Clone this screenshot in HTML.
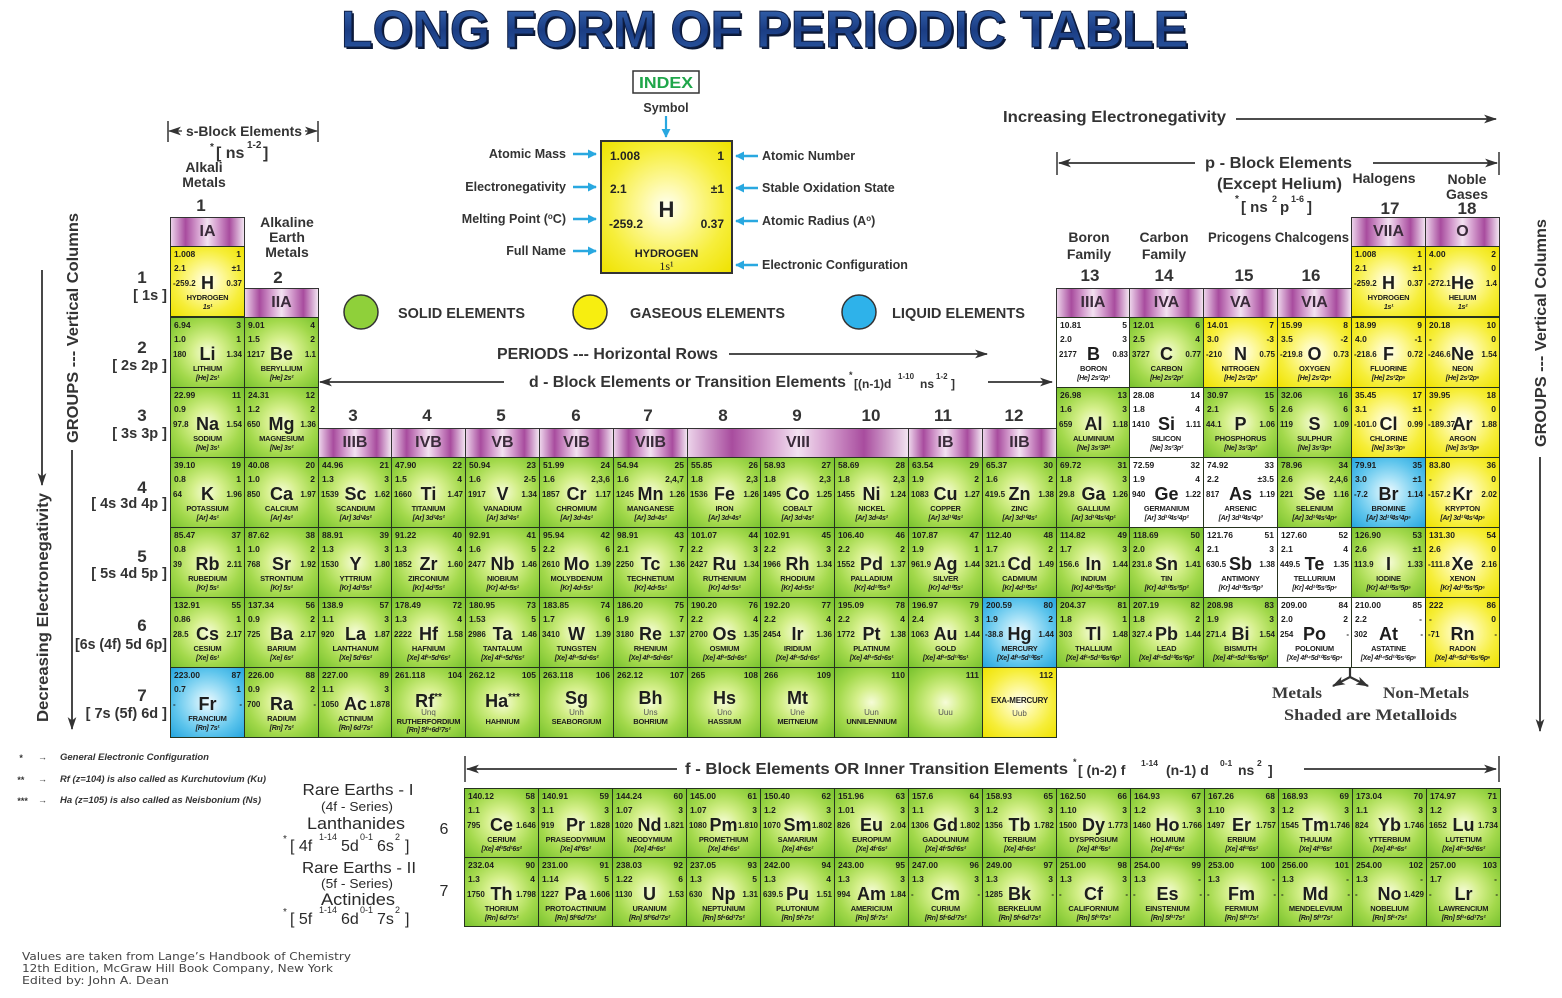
<!DOCTYPE html>
<html><head><meta charset="utf-8">
<style>
body{margin:0;background:#fff;width:1562px;height:998px;position:relative;overflow:hidden;font-family:"Liberation Sans",sans-serif}
.c{position:absolute;width:75px;height:71px;box-sizing:border-box;border:1px solid #26331f;font:bold 8.5px/9px "Liberation Sans",sans-serif;color:#1d1d1d;overflow:hidden}
.c b{position:absolute;white-space:nowrap}
.c b:nth-child(1){left:3px;top:3px}
.c b:nth-child(2){right:3px;top:3px}
.c b:nth-child(3){left:3px;top:17px}
.c b:nth-child(4){right:3px;top:17px}
.c b:nth-child(5){left:2px;top:32px;font-size:8px}
.c b:nth-child(6){left:0;right:0;text-align:center;top:27px;font-size:18px;line-height:18px}
.c b:nth-child(7){right:2px;top:32px;font-size:8px}
.c b:nth-child(8){left:0;right:0;text-align:center;top:47px;font-size:7.5px;line-height:8px;letter-spacing:-.2px}
.c b:nth-child(9){left:0;right:0;text-align:center;top:56.5px;font-size:7px;line-height:8px;font-style:italic;letter-spacing:-.3px}
.c span{position:absolute;left:0;right:0;text-align:center;white-space:nowrap}
.c .sy{font-size:18px;line-height:18px;top:21px}
.c .un{font-size:8px;line-height:8px;font-weight:normal;color:#555;top:41px}
.c .nm{font-size:7.5px;line-height:8px;top:50px;letter-spacing:-.2px}
.c .cf{font-size:7px;line-height:8px;top:59px;font-style:italic;letter-spacing:-.3px}
.g{background:radial-gradient(ellipse at center,#f6fcd8 0%,#d4ef8a 30%,#a3d94c 65%,#78c22e 100%)}
.y{background:radial-gradient(ellipse at center,#fffff2 0%,#fdf89a 30%,#f6ee3a 65%,#efe200 100%)}
.q{background:radial-gradient(ellipse at center,#f0fbff 0%,#a8e2f7 30%,#5cc4ec 65%,#25a5de 100%)}
.w{background:#fff}
.h{position:absolute;height:30px;box-sizing:border-box;border:1px solid #333;font:bold 16px/28px "Liberation Sans",sans-serif;text-align:center;color:#3a2b3a;background:linear-gradient(90deg,#ecd3ea 0%,#a84c9e 20%,#d9a6d3 38%,#f3e2f1 50%,#d9a6d3 62%,#a84c9e 80%,#f2e4f1 100%)}
.k1{left:170px}.k2{left:244px}.k3{left:318px}.k4{left:391px}.k5{left:465px}.k6{left:539px}.k7{left:613px}.k8{left:687px}.k9{left:760px}.k10{left:834px}.k11{left:908px}.k12{left:982px}.k13{left:1056px}.k14{left:1129px}.k15{left:1203px}.k16{left:1277px}.k17{left:1351px}.k18{left:1425px}
.r1{top:246px}.r2{top:317px}.r3{top:387px}.r4{top:457px}.r5{top:527px}.r6{top:597px}.r7{top:667px}
.f1{left:464px}.f2{left:538px}.f3{left:612px}.f4{left:686px}.f5{left:760px}.f6{left:834px}.f7{left:908px}.f8{left:982px}.f9{left:1056px}.f10{left:1130px}.f11{left:1204px}.f12{left:1278px}.f13{left:1352px}.f14{left:1426px}
.s6{top:788px;height:70px}.s7{top:857px;height:70px}
.ix{position:absolute;left:600px;top:140px;width:133px;height:134px;box-sizing:border-box;border:2px solid #333;font:bold 12px/12px "Liberation Sans",sans-serif;color:#222}
.ix b{position:absolute;white-space:nowrap}
</style></head>
<body>
<svg width="1562" height="998" style="position:absolute;left:0;top:0" font-family="Liberation Sans, sans-serif" font-weight="bold" fill="#333">
<defs>
<linearGradient id="tg" x1="0" y1="0" x2="0" y2="1"><stop offset="0" stop-color="#3a6cb8"/><stop offset="0.5" stop-color="#1b3d84"/><stop offset="1" stop-color="#2d5ca8"/></linearGradient>
<marker id="a" viewBox="0 0 12 8" refX="11" refY="4" markerWidth="13" markerHeight="9" markerUnits="userSpaceOnUse" orient="auto"><path d="M0,0 L12,4 L0,8 L3,4z" fill="#333"/></marker>
<marker id="bl" viewBox="0 0 10 10" refX="9" refY="5" markerWidth="9" markerHeight="9" markerUnits="userSpaceOnUse" orient="auto"><path d="M0,0 L10,5 L0,10z" fill="#29a8e0"/></marker>
</defs>
<!-- Title -->
<text x="343" y="49" font-size="52" textLength="847" lengthAdjust="spacingAndGlyphs" fill="#0b1836">LONG FORM OF PERIODIC TABLE</text>
<text x="341" y="47" font-size="52" textLength="847" lengthAdjust="spacingAndGlyphs" fill="url(#tg)" stroke="#0f1f46" stroke-width="1">LONG FORM OF PERIODIC TABLE</text>

<!-- Increasing electronegativity -->
<text x="1003" y="122" font-size="16" textLength="223" lengthAdjust="spacingAndGlyphs">Increasing Electronegativity</text>
<line x1="1236" y1="119" x2="1496" y2="119" stroke="#333" stroke-width="1.8" marker-end="url(#a)"/>

<!-- s-block -->
<line x1="168" y1="121" x2="168" y2="142" stroke="#333" stroke-width="1.5"/>
<line x1="182" y1="131" x2="169" y2="131" stroke="#333" stroke-width="1.3" marker-end="url(#a)"/>
<text x="186" y="136" font-size="14" textLength="116" lengthAdjust="spacingAndGlyphs">s-Block Elements</text>
<line x1="305" y1="131" x2="317" y2="131" stroke="#333" stroke-width="1.3" marker-end="url(#a)"/>
<line x1="318" y1="121" x2="318" y2="142" stroke="#333" stroke-width="1.5"/>
<text x="210" y="150" font-size="10">*</text>
<text x="216" y="158" font-size="16">[ ns</text>
<text x="247" y="148" font-size="10">1-2</text>
<text x="263" y="158" font-size="16">]</text>
<text x="204" y="172" font-size="14" text-anchor="middle">Alkali</text>
<text x="204" y="187" font-size="14" text-anchor="middle">Metals</text>
<text x="201" y="211" font-size="17" text-anchor="middle">1</text>
<text x="287" y="227" font-size="14" text-anchor="middle">Alkaline</text>
<text x="287" y="242" font-size="14" text-anchor="middle">Earth</text>
<text x="287" y="257" font-size="14" text-anchor="middle">Metals</text>
<text x="278" y="283" font-size="17" text-anchor="middle">2</text>

<!-- Index -->
<rect x="633" y="71" width="66" height="22" fill="#fff" stroke="#333" stroke-width="1.5"/>
<text x="666" y="88" font-size="16" text-anchor="middle" fill="#1fa64a" textLength="54" lengthAdjust="spacingAndGlyphs">INDEX</text>
<text x="666" y="112" font-size="12.5" text-anchor="middle">Symbol</text>
<line x1="666" y1="116" x2="666" y2="137" stroke="#29a8e0" stroke-width="2.2" marker-end="url(#bl)"/>
<g font-size="12.5" text-anchor="end">
<text x="566" y="158">Atomic Mass</text>
<text x="566" y="191">Electronegativity</text>
<text x="566" y="223">Melting Point (<tspan font-size="8" dy="-4">o</tspan><tspan dy="4">C)</tspan></text>
<text x="566" y="255">Full Name</text>
</g>
<g stroke="#29a8e0" stroke-width="2.5">
<line x1="573" y1="154" x2="596" y2="154" marker-end="url(#bl)"/>
<line x1="573" y1="187" x2="596" y2="187" marker-end="url(#bl)"/>
<line x1="573" y1="219" x2="596" y2="219" marker-end="url(#bl)"/>
<line x1="573" y1="251" x2="596" y2="251" marker-end="url(#bl)"/>
<line x1="758" y1="156" x2="736" y2="156" marker-end="url(#bl)"/>
<line x1="758" y1="188" x2="736" y2="188" marker-end="url(#bl)"/>
<line x1="758" y1="221" x2="736" y2="221" marker-end="url(#bl)"/>
<line x1="758" y1="265" x2="736" y2="265" marker-end="url(#bl)"/>
</g>
<g font-size="12.5">
<text x="762" y="160">Atomic Number</text>
<text x="762" y="192">Stable Oxidation State</text>
<text x="762" y="225">Atomic Radius (A<tspan font-size="8" dy="-4">o</tspan><tspan dy="4">)</tspan></text>
<text x="762" y="269">Electronic Configuration</text>
</g>

<!-- Legend -->
<circle cx="361" cy="312" r="17" fill="#8fd03a" stroke="#333" stroke-width="1.5"/>
<circle cx="590" cy="312" r="17" fill="#f7ee10" stroke="#333" stroke-width="1.5"/>
<circle cx="859" cy="312" r="17" fill="#2eb2ea" stroke="#333" stroke-width="1.5"/>
<text x="398" y="318" font-size="15" textLength="127" lengthAdjust="spacingAndGlyphs">SOLID ELEMENTS</text>
<text x="630" y="318" font-size="15" textLength="155" lengthAdjust="spacingAndGlyphs">GASEOUS ELEMENTS</text>
<text x="892" y="318" font-size="15" textLength="133" lengthAdjust="spacingAndGlyphs">LIQUID ELEMENTS</text>

<!-- Periods / d-block -->
<text x="497" y="359" font-size="16" textLength="221" lengthAdjust="spacingAndGlyphs">PERIODS ---  Horizontal Rows</text>
<line x1="729" y1="354" x2="987" y2="354" stroke="#333" stroke-width="1.8" marker-end="url(#a)"/>
<line x1="504" y1="382" x2="320" y2="382" stroke="#333" stroke-width="1.8" marker-end="url(#a)"/>
<text x="529" y="387" font-size="16" textLength="317" lengthAdjust="spacingAndGlyphs">d - Block Elements or Transition Elements</text>
<text x="849" y="378" font-size="9">*</text>
<text x="854" y="388" font-size="12">[(n-1)d</text>
<text x="898" y="379" font-size="8">1-10</text>
<text x="920" y="388" font-size="12">ns</text>
<text x="936" y="379" font-size="8">1-2</text>
<text x="951" y="388" font-size="12">]</text>
<line x1="988" y1="382" x2="1052" y2="382" stroke="#333" stroke-width="1.8" marker-end="url(#a)"/>

<g font-size="17" text-anchor="middle">
<text x="353" y="421">3</text><text x="427" y="421">4</text><text x="501" y="421">5</text><text x="576" y="421">6</text><text x="648" y="421">7</text><text x="723" y="421">8</text><text x="797" y="421">9</text><text x="871" y="421">10</text><text x="943" y="421">11</text><text x="1014" y="421">12</text>
<text x="1090" y="281">13</text><text x="1164" y="281">14</text><text x="1244" y="281">15</text><text x="1311" y="281">16</text>
<text x="1390" y="214">17</text><text x="1467" y="214">18</text>
</g>

<!-- p-block -->
<line x1="1057" y1="152" x2="1057" y2="175" stroke="#333" stroke-width="1.5"/>
<line x1="1195" y1="163" x2="1059" y2="163" stroke="#333" stroke-width="1.8" marker-end="url(#a)"/>
<text x="1205" y="168" font-size="16" textLength="147" lengthAdjust="spacingAndGlyphs">p - Block Elements</text>
<line x1="1373" y1="163" x2="1497" y2="163" stroke="#333" stroke-width="1.8" marker-end="url(#a)"/>
<line x1="1499" y1="152" x2="1499" y2="175" stroke="#333" stroke-width="1.5"/>
<text x="1217" y="189" font-size="16" textLength="125" lengthAdjust="spacingAndGlyphs">(Except Helium)</text>
<text x="1235" y="202" font-size="10">*</text>
<text x="1241" y="212" font-size="15">[ ns</text>
<text x="1272" y="202" font-size="9">2</text>
<text x="1280" y="212" font-size="15">p</text>
<text x="1291" y="202" font-size="9">1-6</text>
<text x="1307" y="212" font-size="15">]</text>
<text x="1384" y="183" font-size="14" text-anchor="middle">Halogens</text>
<text x="1467" y="184" font-size="14" text-anchor="middle">Noble</text>
<text x="1467" y="199" font-size="14" text-anchor="middle">Gases</text>
<text x="1089" y="242" font-size="14" text-anchor="middle">Boron</text>
<text x="1089" y="259" font-size="14" text-anchor="middle">Family</text>
<text x="1164" y="242" font-size="14" text-anchor="middle">Carbon</text>
<text x="1164" y="259" font-size="14" text-anchor="middle">Family</text>
<text x="1208" y="242" font-size="14" textLength="141" lengthAdjust="spacingAndGlyphs">Pricogens Chalcogens</text>

<!-- Period labels -->
<g font-size="17" text-anchor="middle">
<text x="142" y="283">1</text><text x="142" y="353">2</text><text x="142" y="421">3</text><text x="142" y="493">4</text><text x="142" y="562">5</text><text x="142" y="631">6</text><text x="142" y="701">7</text>
</g>
<g font-size="14.5" text-anchor="end">
<text x="167" y="300">[ 1s ]</text>
<text x="167" y="370">[ 2s 2p ]</text>
<text x="167" y="438">[ 3s 3p ]</text>
<text x="167" y="508">[ 4s 3d 4p ]</text>
<text x="167" y="578">[ 5s 4d 5p ]</text>
<text x="167" y="649" textLength="92" lengthAdjust="spacingAndGlyphs">[6s (4f) 5d 6p]</text>
<text x="167" y="718">[ 7s (5f) 6d ]</text>
</g>

<!-- Vertical labels -->
<text transform="translate(78,443) rotate(-90)" font-size="16" textLength="230" lengthAdjust="spacingAndGlyphs">GROUPS --- Vertical Columns</text>
<line x1="72" y1="450" x2="72" y2="729" stroke="#333" stroke-width="1.8" marker-end="url(#a)"/>
<line x1="42" y1="270" x2="42" y2="485" stroke="#333" stroke-width="1.8" marker-end="url(#a)"/>
<text transform="translate(48,722) rotate(-90)" font-size="16" textLength="229" lengthAdjust="spacingAndGlyphs">Decreasing Electronegativity</text>
<text transform="translate(1546,447) rotate(-90)" font-size="16" textLength="228" lengthAdjust="spacingAndGlyphs">GROUPS --- Vertical Columns</text>
<line x1="1540" y1="457" x2="1540" y2="731" stroke="#333" stroke-width="1.8" marker-end="url(#a)"/>

<!-- Metals / Non-metals -->
<polyline points="1350,667 1350,677" fill="none" stroke="#333" stroke-width="2.2"/>
<line x1="1350" y1="677" x2="1333" y2="686" stroke="#333" stroke-width="2.2" marker-end="url(#a)"/>
<line x1="1350" y1="677" x2="1368" y2="686" stroke="#333" stroke-width="2.2" marker-end="url(#a)"/>
<g font-family="Liberation Serif, serif" font-size="16" fill="#3a3a3a">
<text x="1272" y="698" textLength="50" lengthAdjust="spacingAndGlyphs">Metals</text>
<text x="1383" y="698" textLength="86" lengthAdjust="spacingAndGlyphs">Non-Metals</text>
<text x="1284" y="720" textLength="173" lengthAdjust="spacingAndGlyphs">Shaded are Metalloids</text>
</g>

<!-- Notes -->
<g font-size="9" font-style="italic" fill="#333">
<text x="19" y="761">*</text><text x="38" y="760">→</text><text x="60" y="760" textLength="149" lengthAdjust="spacingAndGlyphs">General Electronic Configuration</text>
<text x="17" y="783">**</text><text x="38" y="782">→</text><text x="60" y="782" textLength="206" lengthAdjust="spacingAndGlyphs">Rf (z=104) is also called as Kurchutovium (Ku)</text>
<text x="17" y="804">***</text><text x="38" y="803">→</text><text x="60" y="803" textLength="201" lengthAdjust="spacingAndGlyphs">Ha (z=105) is also called as Neisbonium (Ns)</text>
</g>

<!-- Rare earths -->
<g font-weight="normal" fill="#2a2a2a" text-anchor="middle">
<text x="358" y="795" font-size="16" textLength="111" lengthAdjust="spacingAndGlyphs">Rare Earths - I</text>
<text x="357" y="811" font-size="13" textLength="72" lengthAdjust="spacingAndGlyphs">(4f - Series)</text>
<text x="356" y="829" font-size="17" textLength="98" lengthAdjust="spacingAndGlyphs">Lanthanides</text>
<text x="359" y="873" font-size="16" textLength="114" lengthAdjust="spacingAndGlyphs">Rare Earths - II</text>
<text x="357" y="888" font-size="13" textLength="72" lengthAdjust="spacingAndGlyphs">(5f - Series)</text>
<text x="358" y="905" font-size="17" textLength="74" lengthAdjust="spacingAndGlyphs">Actinides</text>
</g>
<g font-weight="normal" fill="#2a2a2a">
<text x="283" y="842" font-size="10">*</text>
<text x="290" y="851" font-size="16">[ 4f</text>
<text x="319" y="840" font-size="9">1-14</text>
<text x="341" y="851" font-size="16">5d</text>
<text x="360" y="840" font-size="9">0-1</text>
<text x="377" y="851" font-size="16">6s</text>
<text x="395" y="840" font-size="9">2</text>
<text x="405" y="851" font-size="16">]</text>
<text x="283" y="915" font-size="10">*</text>
<text x="290" y="924" font-size="16">[ 5f</text>
<text x="319" y="913" font-size="9">1-14</text>
<text x="341" y="924" font-size="16">6d</text>
<text x="360" y="913" font-size="9">0-1</text>
<text x="377" y="924" font-size="16">7s</text>
<text x="395" y="913" font-size="9">2</text>
<text x="405" y="924" font-size="16">]</text>
<text x="444" y="834" font-size="16" text-anchor="middle">6</text>
<text x="444" y="896" font-size="16" text-anchor="middle">7</text>
</g>

<!-- f-block header -->
<line x1="465" y1="756" x2="465" y2="782" stroke="#333" stroke-width="1.5"/>
<line x1="677" y1="769" x2="467" y2="769" stroke="#333" stroke-width="1.8" marker-end="url(#a)"/>
<text x="685" y="774" font-size="16" textLength="383" lengthAdjust="spacingAndGlyphs">f - Block Elements  OR  Inner Transition Elements</text>
<text x="1073" y="765" font-size="9">*</text>
<text x="1078" y="775" font-size="14">[ (n-2) f</text>
<text x="1141" y="766" font-size="8.5">1-14</text>
<text x="1166" y="775" font-size="14">(n-1) d</text>
<text x="1220" y="766" font-size="8.5">0-1</text>
<text x="1238" y="775" font-size="14">ns</text>
<text x="1257" y="766" font-size="8.5">2</text>
<text x="1268" y="775" font-size="14">]</text>
<line x1="1304" y1="769" x2="1496" y2="769" stroke="#333" stroke-width="1.8" marker-end="url(#a)"/>
<line x1="1499" y1="756" x2="1499" y2="782" stroke="#333" stroke-width="1.5"/>

<!-- Footer -->
<g font-family="DejaVu Sans, sans-serif" font-weight="normal" font-size="11" fill="#444">
<text x="22" y="960" textLength="329" lengthAdjust="spacingAndGlyphs">Values are taken from Lange’s Handbook of Chemistry</text>
<text x="22" y="972" textLength="311" lengthAdjust="spacingAndGlyphs">12th Edition, McGraw Hill Book Company, New York</text>
<text x="22" y="984" textLength="147" lengthAdjust="spacingAndGlyphs">Edited by: John A. Dean</text>
</g>
</svg>

<!-- Index cell -->
<div class="ix y">
<b style="left:8px;top:8px">1.008</b><b style="right:7px;top:8px">1</b>
<b style="left:8px;top:41px">2.1</b><b style="right:7px;top:41px">±1</b>
<b style="left:0;right:0;text-align:center;top:57px;font-size:22px;line-height:22px">H</b>
<b style="left:7px;top:76px">-259.2</b><b style="right:7px;top:76px">0.37</b>
<b style="left:0;right:0;text-align:center;top:106px;font-size:11px">HYDROGEN</b>
<b style="left:0;right:0;text-align:center;top:118px;font:12px/12px 'Liberation Serif',serif">1s¹</b>
</div>

<!-- Group headers -->
<div class="h" style="left:170px;top:217px;width:75px">IA</div>
<div class="h" style="left:244px;top:288px;width:75px">IIA</div>
<div class="h" style="left:318px;top:428px;width:74px">IIIB</div>
<div class="h" style="left:391px;top:428px;width:75px">IVB</div>
<div class="h" style="left:465px;top:428px;width:75px">VB</div>
<div class="h" style="left:539px;top:428px;width:75px">VIB</div>
<div class="h" style="left:613px;top:428px;width:75px">VIIB</div>
<div class="h" style="left:687px;top:428px;width:222px">VIII</div>
<div class="h" style="left:908px;top:428px;width:75px">IB</div>
<div class="h" style="left:982px;top:428px;width:75px">IIB</div>
<div class="h" style="left:1056px;top:288px;width:74px">IIIA</div>
<div class="h" style="left:1129px;top:288px;width:75px">IVA</div>
<div class="h" style="left:1203px;top:288px;width:75px">VA</div>
<div class="h" style="left:1277px;top:288px;width:75px">VIA</div>
<div class="h" style="left:1351px;top:217px;width:75px">VIIA</div>
<div class="h" style="left:1425px;top:217px;width:75px">O</div>

<!-- Period 1 -->
<div class="c y k1 r1"><b>1.008</b><b>1</b><b>2.1</b><b>±1</b><b>-259.2</b><b>H</b><b>0.37</b><b>HYDROGEN</b><b>1s¹</b></div>
<div class="c y k17 r1"><b>1.008</b><b>1</b><b>2.1</b><b>±1</b><b>-259.2</b><b>H</b><b>0.37</b><b>HYDROGEN</b><b>1s¹</b></div>
<div class="c y k18 r1"><b>4.00</b><b>2</b><b>-</b><b>0</b><b>-272.1</b><b>He</b><b>1.4</b><b>HELIUM</b><b>1s²</b></div>

<!-- Period 2 -->
<div class="c g k1 r2"><b>6.94</b><b>3</b><b>1.0</b><b>1</b><b>180</b><b>Li</b><b>1.34</b><b>LITHIUM</b><b>[He] 2s¹</b></div>
<div class="c g k2 r2"><b>9.01</b><b>4</b><b>1.5</b><b>2</b><b>1217</b><b>Be</b><b>1.1</b><b>BERYLLIUM</b><b>[He] 2s²</b></div>
<div class="c w k13 r2"><b>10.81</b><b>5</b><b>2.0</b><b>3</b><b>2177</b><b>B</b><b>0.83</b><b>BORON</b><b>[He] 2s²2p¹</b></div>
<div class="c g k14 r2"><b>12.01</b><b>6</b><b>2.5</b><b>4</b><b>3727</b><b>C</b><b>0.77</b><b>CARBON</b><b>[He] 2s²2p²</b></div>
<div class="c y k15 r2"><b>14.01</b><b>7</b><b>3.0</b><b>-3</b><b>-210</b><b>N</b><b>0.75</b><b>NITROGEN</b><b>[He] 2s²2p³</b></div>
<div class="c y k16 r2"><b>15.99</b><b>8</b><b>3.5</b><b>-2</b><b>-219.8</b><b>O</b><b>0.73</b><b>OXYGEN</b><b>[He] 2s²2p⁴</b></div>
<div class="c y k17 r2"><b>18.99</b><b>9</b><b>4.0</b><b>-1</b><b>-218.6</b><b>F</b><b>0.72</b><b>FLUORINE</b><b>[He] 2s²2p⁵</b></div>
<div class="c y k18 r2"><b>20.18</b><b>10</b><b>-</b><b>0</b><b>-246.6</b><b>Ne</b><b>1.54</b><b>NEON</b><b>[He] 2s²2p⁶</b></div>

<!-- Period 3 -->
<div class="c g k1 r3"><b>22.99</b><b>11</b><b>0.9</b><b>1</b><b>97.8</b><b>Na</b><b>1.54</b><b>SODIUM</b><b>[Ne] 3s¹</b></div>
<div class="c g k2 r3"><b>24.31</b><b>12</b><b>1.2</b><b>2</b><b>650</b><b>Mg</b><b>1.36</b><b>MAGNESIUM</b><b>[Ne] 3s²</b></div>
<div class="c g k13 r3"><b>26.98</b><b>13</b><b>1.6</b><b>3</b><b>659</b><b>Al</b><b>1.18</b><b>ALUMINIUM</b><b>[Ne] 3s²3P¹</b></div>
<div class="c w k14 r3"><b>28.08</b><b>14</b><b>1.8</b><b>4</b><b>1410</b><b>Si</b><b>1.11</b><b>SILICON</b><b>[Ne] 3s²3p²</b></div>
<div class="c g k15 r3"><b>30.97</b><b>15</b><b>2.1</b><b>5</b><b>44.1</b><b>P</b><b>1.06</b><b>PHOSPHORUS</b><b>[Ne] 3s²3p³</b></div>
<div class="c g k16 r3"><b>32.06</b><b>16</b><b>2.6</b><b>6</b><b>119</b><b>S</b><b>1.09</b><b>SULPHUR</b><b>[Ne] 3s²3p⁴</b></div>
<div class="c y k17 r3"><b>35.45</b><b>17</b><b>3.1</b><b>±1</b><b>-101.0</b><b>Cl</b><b>0.99</b><b>CHLORINE</b><b>[Ne] 3s²3p⁵</b></div>
<div class="c y k18 r3"><b>39.95</b><b>18</b><b>-</b><b>0</b><b>-189.37</b><b>Ar</b><b>1.88</b><b>ARGON</b><b>[Ne] 3s²3p⁶</b></div>

<!-- Period 4 -->
<div class="c g k1 r4"><b>39.10</b><b>19</b><b>0.8</b><b>1</b><b>64</b><b>K</b><b>1.96</b><b>POTASSIUM</b><b>[Ar] 4s¹</b></div>
<div class="c g k2 r4"><b>40.08</b><b>20</b><b>1.0</b><b>2</b><b>850</b><b>Ca</b><b>1.97</b><b>CALCIUM</b><b>[Ar] 4s²</b></div>
<div class="c g k3 r4"><b>44.96</b><b>21</b><b>1.3</b><b>3</b><b>1539</b><b>Sc</b><b>1.62</b><b>SCANDIUM</b><b>[Ar] 3d¹4s²</b></div>
<div class="c g k4 r4"><b>47.90</b><b>22</b><b>1.5</b><b>4</b><b>1660</b><b>Ti</b><b>1.47</b><b>TITANIUM</b><b>[Ar] 3d²4s²</b></div>
<div class="c g k5 r4"><b>50.94</b><b>23</b><b>1.6</b><b>2-5</b><b>1917</b><b>V</b><b>1.34</b><b>VANADIUM</b><b>[Ar] 3d³4s²</b></div>
<div class="c g k6 r4"><b>51.99</b><b>24</b><b>1.6</b><b>2,3,6</b><b>1857</b><b>Cr</b><b>1.17</b><b>CHROMIUM</b><b>[Ar] 3d⁵4s¹</b></div>
<div class="c g k7 r4"><b>54.94</b><b>25</b><b>1.6</b><b>2,4,7</b><b>1245</b><b>Mn</b><b>1.26</b><b>MANGANESE</b><b>[Ar] 3d⁵4s²</b></div>
<div class="c g k8 r4"><b>55.85</b><b>26</b><b>1.8</b><b>2,3</b><b>1536</b><b>Fe</b><b>1.26</b><b>IRON</b><b>[Ar] 3d⁶4s²</b></div>
<div class="c g k9 r4"><b>58.93</b><b>27</b><b>1.8</b><b>2,3</b><b>1495</b><b>Co</b><b>1.25</b><b>COBALT</b><b>[Ar] 3d⁷4s²</b></div>
<div class="c g k10 r4"><b>58.69</b><b>28</b><b>1.8</b><b>2,3</b><b>1455</b><b>Ni</b><b>1.24</b><b>NICKEL</b><b>[Ar] 3d⁸4s²</b></div>
<div class="c g k11 r4"><b>63.54</b><b>29</b><b>1.9</b><b>2</b><b>1083</b><b>Cu</b><b>1.27</b><b>COPPER</b><b>[Ar] 3d¹⁰4s¹</b></div>
<div class="c g k12 r4"><b>65.37</b><b>30</b><b>1.6</b><b>2</b><b>419.5</b><b>Zn</b><b>1.38</b><b>ZINC</b><b>[Ar] 3d¹⁰4s²</b></div>
<div class="c g k13 r4"><b>69.72</b><b>31</b><b>1.8</b><b>3</b><b>29.8</b><b>Ga</b><b>1.26</b><b>GALLIUM</b><b>[Ar] 3d¹⁰4s²4p¹</b></div>
<div class="c w k14 r4"><b>72.59</b><b>32</b><b>1.9</b><b>4</b><b>940</b><b>Ge</b><b>1.22</b><b>GERMANIUM</b><b>[Ar] 3d¹⁰4s²4p²</b></div>
<div class="c w k15 r4"><b>74.92</b><b>33</b><b>2.2</b><b>±3.5</b><b>817</b><b>As</b><b>1.19</b><b>ARSENIC</b><b>[Ar] 3d¹⁰4s²4p³</b></div>
<div class="c g k16 r4"><b>78.96</b><b>34</b><b>2.6</b><b>2,4,6</b><b>221</b><b>Se</b><b>1.16</b><b>SELENIUM</b><b>[Ar] 3d¹⁰4s²4p⁴</b></div>
<div class="c q k17 r4"><b>79.91</b><b>35</b><b>3.0</b><b>±1</b><b>-7.2</b><b>Br</b><b>1.14</b><b>BROMINE</b><b>[Ar] 3d¹⁰4s²4p⁵</b></div>
<div class="c y k18 r4"><b>83.80</b><b>36</b><b>-</b><b>0</b><b>-157.2</b><b>Kr</b><b>2.02</b><b>KRYPTON</b><b>[Ar] 3d¹⁰4s²4p⁶</b></div>

<!-- Period 5 -->
<div class="c g k1 r5"><b>85.47</b><b>37</b><b>0.8</b><b>1</b><b>39</b><b>Rb</b><b>2.11</b><b>RUBEDIUM</b><b>[Kr] 5s¹</b></div>
<div class="c g k2 r5"><b>87.62</b><b>38</b><b>1.0</b><b>2</b><b>768</b><b>Sr</b><b>1.92</b><b>STRONTIUM</b><b>[Kr] 5s²</b></div>
<div class="c g k3 r5"><b>88.91</b><b>39</b><b>1.3</b><b>3</b><b>1530</b><b>Y</b><b>1.80</b><b>YTTRIUM</b><b>[Kr] 4d¹5s²</b></div>
<div class="c g k4 r5"><b>91.22</b><b>40</b><b>1.3</b><b>4</b><b>1852</b><b>Zr</b><b>1.60</b><b>ZIRCONIUM</b><b>[Kr] 4d²5s²</b></div>
<div class="c g k5 r5"><b>92.91</b><b>41</b><b>1.6</b><b>5</b><b>2477</b><b>Nb</b><b>1.46</b><b>NIOBIUM</b><b>[Kr] 4d⁴5s¹</b></div>
<div class="c g k6 r5"><b>95.94</b><b>42</b><b>2.2</b><b>6</b><b>2610</b><b>Mo</b><b>1.39</b><b>MOLYBDENUM</b><b>[Kr] 4d⁵5s¹</b></div>
<div class="c g k7 r5"><b>98.91</b><b>43</b><b>2.1</b><b>7</b><b>2250</b><b>Tc</b><b>1.36</b><b>TECHNETIUM</b><b>[Kr] 4d⁶5s¹</b></div>
<div class="c g k8 r5"><b>101.07</b><b>44</b><b>2.2</b><b>3</b><b>2427</b><b>Ru</b><b>1.34</b><b>RUTHENIUM</b><b>[Kr] 4d⁷5s¹</b></div>
<div class="c g k9 r5"><b>102.91</b><b>45</b><b>2.2</b><b>3</b><b>1966</b><b>Rh</b><b>1.34</b><b>RHODIUM</b><b>[Kr] 4d⁸5s¹</b></div>
<div class="c g k10 r5"><b>106.40</b><b>46</b><b>2.2</b><b>2</b><b>1552</b><b>Pd</b><b>1.37</b><b>PALLADIUM</b><b>[Kr] 4d¹⁰5s⁰</b></div>
<div class="c g k11 r5"><b>107.87</b><b>47</b><b>1.9</b><b>1</b><b>961.9</b><b>Ag</b><b>1.44</b><b>SILVER</b><b>[Kr] 4d¹⁰5s¹</b></div>
<div class="c g k12 r5"><b>112.40</b><b>48</b><b>1.7</b><b>2</b><b>321.1</b><b>Cd</b><b>1.49</b><b>CADMIUM</b><b>[Kr] 4d¹⁰5s²</b></div>
<div class="c g k13 r5"><b>114.82</b><b>49</b><b>1.7</b><b>3</b><b>156.6</b><b>In</b><b>1.44</b><b>INDIUM</b><b>[Kr] 4d¹⁰5s²5p¹</b></div>
<div class="c g k14 r5"><b>118.69</b><b>50</b><b>2.0</b><b>4</b><b>231.8</b><b>Sn</b><b>1.41</b><b>TIN</b><b>[Kr] 4d¹⁰5s²5p²</b></div>
<div class="c w k15 r5"><b>121.76</b><b>51</b><b>2.1</b><b>3</b><b>630.5</b><b>Sb</b><b>1.38</b><b>ANTIMONY</b><b>[Kr] 4d¹⁰5s²5p³</b></div>
<div class="c w k16 r5"><b>127.60</b><b>52</b><b>2.1</b><b>4</b><b>449.5</b><b>Te</b><b>1.35</b><b>TELLURIUM</b><b>[Kr] 4d¹⁰5s²5p⁴</b></div>
<div class="c g k17 r5"><b>126.90</b><b>53</b><b>2.6</b><b>±1</b><b>113.9</b><b>I</b><b>1.33</b><b>IODINE</b><b>[Kr] 4d¹⁰5s²5p⁵</b></div>
<div class="c y k18 r5"><b>131.30</b><b>54</b><b>2.6</b><b>0</b><b>-111.8</b><b>Xe</b><b>2.16</b><b>XENON</b><b>[Kr] 4d¹⁰5s²5p⁶</b></div>

<!-- Period 6 -->
<div class="c g k1 r6"><b>132.91</b><b>55</b><b>0.86</b><b>1</b><b>28.5</b><b>Cs</b><b>2.17</b><b>CESIUM</b><b>[Xe] 6s¹</b></div>
<div class="c g k2 r6"><b>137.34</b><b>56</b><b>0.9</b><b>2</b><b>725</b><b>Ba</b><b>2.17</b><b>BARIUM</b><b>[Xe] 6s²</b></div>
<div class="c g k3 r6"><b>138.9</b><b>57</b><b>1.1</b><b>3</b><b>920</b><b>La</b><b>1.87</b><b>LANTHANUM</b><b>[Xe] 5d¹6s²</b></div>
<div class="c g k4 r6"><b>178.49</b><b>72</b><b>1.3</b><b>4</b><b>2222</b><b>Hf</b><b>1.58</b><b>HAFNIUM</b><b>[Xe] 4f¹⁴5d²6s²</b></div>
<div class="c g k5 r6"><b>180.95</b><b>73</b><b>1.53</b><b>5</b><b>2986</b><b>Ta</b><b>1.46</b><b>TANTALUM</b><b>[Xe] 4f¹⁴5d³6s²</b></div>
<div class="c g k6 r6"><b>183.85</b><b>74</b><b>1.7</b><b>6</b><b>3410</b><b>W</b><b>1.39</b><b>TUNGSTEN</b><b>[Xe] 4f¹⁴5d⁴6s²</b></div>
<div class="c g k7 r6"><b>186.20</b><b>75</b><b>1.9</b><b>7</b><b>3180</b><b>Re</b><b>1.37</b><b>RHENIUM</b><b>[Xe] 4f¹⁴5d⁵6s²</b></div>
<div class="c g k8 r6"><b>190.20</b><b>76</b><b>2.2</b><b>4</b><b>2700</b><b>Os</b><b>1.35</b><b>OSMIUM</b><b>[Xe] 4f¹⁴5d⁶6s²</b></div>
<div class="c g k9 r6"><b>192.20</b><b>77</b><b>2.2</b><b>4</b><b>2454</b><b>Ir</b><b>1.36</b><b>IRIDIUM</b><b>[Xe] 4f¹⁴5d⁷6s²</b></div>
<div class="c g k10 r6"><b>195.09</b><b>78</b><b>2.2</b><b>4</b><b>1772</b><b>Pt</b><b>1.38</b><b>PLATINUM</b><b>[Xe] 4f¹⁴5d⁹6s¹</b></div>
<div class="c g k11 r6"><b>196.97</b><b>79</b><b>2.4</b><b>3</b><b>1063</b><b>Au</b><b>1.44</b><b>GOLD</b><b>[Xe] 4f¹⁴5d¹⁰6s¹</b></div>
<div class="c q k12 r6"><b>200.59</b><b>80</b><b>1.9</b><b>2</b><b>-38.8</b><b>Hg</b><b>1.44</b><b>MERCURY</b><b>[Xe] 4f¹⁴5d¹⁰6s²</b></div>
<div class="c g k13 r6"><b>204.37</b><b>81</b><b>1.8</b><b>1</b><b>303</b><b>Tl</b><b>1.48</b><b>THALLIUM</b><b>[Xe] 4f¹⁴5d¹⁰6s²6p¹</b></div>
<div class="c g k14 r6"><b>207.19</b><b>82</b><b>1.8</b><b>2</b><b>327.4</b><b>Pb</b><b>1.44</b><b>LEAD</b><b>[Xe] 4f¹⁴5d¹⁰6s²6p²</b></div>
<div class="c g k15 r6"><b>208.98</b><b>83</b><b>1.9</b><b>3</b><b>271.4</b><b>Bi</b><b>1.54</b><b>BISMUTH</b><b>[Xe] 4f¹⁴5d¹⁰6s²6p³</b></div>
<div class="c w k16 r6"><b>209.00</b><b>84</b><b>2.0</b><b>2</b><b>254</b><b>Po</b><b>-</b><b>POLONIUM</b><b>[Xe] 4f¹⁴5d¹⁰6s²6p⁴</b></div>
<div class="c w k17 r6"><b>210.00</b><b>85</b><b>2.2</b><b>-</b><b>302</b><b>At</b><b>-</b><b>ASTATINE</b><b>[Xe] 4f¹⁴5d¹⁰6s²6p⁵</b></div>
<div class="c y k18 r6"><b>222</b><b>86</b><b>-</b><b>0</b><b>-71</b><b>Rn</b><b>-</b><b>RADON</b><b>[Xe] 4f¹⁴5d¹⁰6s²6p⁶</b></div>

<!-- Period 7 -->
<div class="c q k1 r7"><b>223.00</b><b>87</b><b>0.7</b><b>1</b><b>-</b><b>Fr</b><b>-</b><b>FRANCIUM</b><b>[Rn] 7s¹</b></div>
<div class="c g k2 r7"><b>226.00</b><b>88</b><b>0.9</b><b>2</b><b>700</b><b>Ra</b><b>-</b><b>RADIUM</b><b>[Rn] 7s²</b></div>
<div class="c g k3 r7"><b>227.00</b><b>89</b><b>1.1</b><b>3</b><b>1050</b><b>Ac</b><b>1.878</b><b>ACTINIUM</b><b>[Rn] 6d¹7s²</b></div>
<div class="c g k4 r7"><b>261.118</b><b>104</b><span class="sy">Rf<sup style="font-size:10px">**</sup></span><span class="un">Unq</span><span class="nm">RUTHERFORDIUM</span><span class="cf">[Rn] 5f¹⁴6d²7s²</span></div>
<div class="c g k5 r7"><b>262.12</b><b>105</b><span class="sy">Ha<sup style="font-size:10px">***</sup></span><span class="nm">HAHNIUM</span></div>
<div class="c g k6 r7"><b>263.118</b><b>106</b><span class="sy">Sg</span><span class="un" style="top:41px">Unh</span><span class="nm" style="top:50px">SEABORGIUM</span></div>
<div class="c g k7 r7"><b>262.12</b><b>107</b><span class="sy">Bh</span><span class="un">Uns</span><span class="nm">BOHRIUM</span></div>
<div class="c g k8 r7"><b>265</b><b>108</b><span class="sy">Hs</span><span class="un">Uno</span><span class="nm">HASSIUM</span></div>
<div class="c g k9 r7"><b>266</b><b>109</b><span class="sy">Mt</span><span class="un">Une</span><span class="nm">MEITNEIUM</span></div>
<div class="c g k10 r7"><b></b><b>110</b><span class="un">Uun</span><span class="nm">UNNILENNIUM</span></div>
<div class="c g k11 r7"><b></b><b>111</b><span class="un">Uuu</span></div>
<div class="c y k12 r7"><b></b><b>112</b><span class="nm" style="top:29px;font-size:8px">EXA-MERCURY</span><span class="un" style="top:42px">Uub</span></div>

<!-- f-block row 6 -->
<div class="c g f1 s6"><b>140.12</b><b>58</b><b>1.1</b><b>3</b><b>795</b><b>Ce</b><b>1.646</b><b>CERIUM</b><b>[Xe] 4f¹5d¹6s²</b></div>
<div class="c g f2 s6"><b>140.91</b><b>59</b><b>1.1</b><b>3</b><b>919</b><b>Pr</b><b>1.828</b><b>PRASEODYMIUM</b><b>[Xe] 4f³6s²</b></div>
<div class="c g f3 s6"><b>144.24</b><b>60</b><b>1.07</b><b>3</b><b>1020</b><b>Nd</b><b>1.821</b><b>NEODYMIUM</b><b>[Xe] 4f⁴6s²</b></div>
<div class="c g f4 s6"><b>145.00</b><b>61</b><b>1.07</b><b>3</b><b>1080</b><b>Pm</b><b>1.810</b><b>PROMETHIUM</b><b>[Xe] 4f⁵6s²</b></div>
<div class="c g f5 s6"><b>150.40</b><b>62</b><b>1.2</b><b>3</b><b>1070</b><b>Sm</b><b>1.802</b><b>SAMARIUM</b><b>[Xe] 4f⁶6s²</b></div>
<div class="c g f6 s6"><b>151.96</b><b>63</b><b>1.01</b><b>3</b><b>826</b><b>Eu</b><b>2.04</b><b>EUROPIUM</b><b>[Xe] 4f⁷6s²</b></div>
<div class="c g f7 s6"><b>157.6</b><b>64</b><b>1.1</b><b>3</b><b>1306</b><b>Gd</b><b>1.802</b><b>GADOLINIUM</b><b>[Xe] 4f⁷5d¹6s²</b></div>
<div class="c g f8 s6"><b>158.93</b><b>65</b><b>1.2</b><b>3</b><b>1356</b><b>Tb</b><b>1.782</b><b>TERBIUM</b><b>[Xe] 4f⁹6s²</b></div>
<div class="c g f9 s6"><b>162.50</b><b>66</b><b>1.10</b><b>3</b><b>1500</b><b>Dy</b><b>1.773</b><b>DYSPROSIUM</b><b>[Xe] 4f¹⁰6s²</b></div>
<div class="c g f10 s6"><b>164.93</b><b>67</b><b>1.2</b><b>3</b><b>1460</b><b>Ho</b><b>1.766</b><b>HOLMIUM</b><b>[Xe] 4f¹¹6s²</b></div>
<div class="c g f11 s6"><b>167.26</b><b>68</b><b>1.10</b><b>3</b><b>1497</b><b>Er</b><b>1.757</b><b>ERBIUM</b><b>[Xe] 4f¹²6s²</b></div>
<div class="c g f12 s6"><b>168.93</b><b>69</b><b>1.2</b><b>3</b><b>1545</b><b>Tm</b><b>1.746</b><b>THULIUM</b><b>[Xe] 4f¹³6s²</b></div>
<div class="c g f13 s6"><b>173.04</b><b>70</b><b>1.1</b><b>3</b><b>824</b><b>Yb</b><b>1.746</b><b>YTTERBIUM</b><b>[Xe] 4f¹⁴6s²</b></div>
<div class="c g f14 s6"><b>174.97</b><b>71</b><b>1.2</b><b>3</b><b>1652</b><b>Lu</b><b>1.734</b><b>LUTETIUM</b><b>[Xe] 4f¹⁴5d¹6s²</b></div>

<!-- f-block row 7 -->
<div class="c g f1 s7"><b>232.04</b><b>90</b><b>1.3</b><b>4</b><b>1750</b><b>Th</b><b>1.798</b><b>THORIUM</b><b>[Rn] 6d²7s²</b></div>
<div class="c g f2 s7"><b>231.00</b><b>91</b><b>1.14</b><b>5</b><b>1227</b><b>Pa</b><b>1.606</b><b>PROTOACTINIUM</b><b>[Rn] 5f²6d¹7s²</b></div>
<div class="c g f3 s7"><b>238.03</b><b>92</b><b>1.22</b><b>6</b><b>1130</b><b>U</b><b>1.53</b><b>URANIUM</b><b>[Rn] 5f³6d¹7s²</b></div>
<div class="c g f4 s7"><b>237.05</b><b>93</b><b>1.3</b><b>5</b><b>630</b><b>Np</b><b>1.31</b><b>NEPTUNIUM</b><b>[Rn] 5f⁴6d¹7s²</b></div>
<div class="c g f5 s7"><b>242.00</b><b>94</b><b>1.3</b><b>4</b><b>639.5</b><b>Pu</b><b>1.51</b><b>PLUTONIUM</b><b>[Rn] 5f⁶7s²</b></div>
<div class="c g f6 s7"><b>243.00</b><b>95</b><b>1.3</b><b>3</b><b>994</b><b>Am</b><b>1.84</b><b>AMERICIUM</b><b>[Rn] 5f⁷7s²</b></div>
<div class="c g f7 s7"><b>247.00</b><b>96</b><b>1.3</b><b>3</b><b>-</b><b>Cm</b><b>-</b><b>CURIUM</b><b>[Rn] 5f⁷6d¹7s²</b></div>
<div class="c g f8 s7"><b>249.00</b><b>97</b><b>1.3</b><b>3</b><b>1285</b><b>Bk</b><b>-</b><b>BERKELIUM</b><b>[Rn] 5f⁸6d¹7s²</b></div>
<div class="c g f9 s7"><b>251.00</b><b>98</b><b>1.3</b><b>3</b><b>-</b><b>Cf</b><b>-</b><b>CALIFORNIUM</b><b>[Rn] 5f¹⁰7s²</b></div>
<div class="c g f10 s7"><b>254.00</b><b>99</b><b>1.3</b><b>-</b><b>-</b><b>Es</b><b>-</b><b>EINSTENIUM</b><b>[Rn] 5f¹¹7s²</b></div>
<div class="c g f11 s7"><b>253.00</b><b>100</b><b>1.3</b><b>-</b><b>-</b><b>Fm</b><b>-</b><b>FERMIUM</b><b>[Rn] 5f¹²7s²</b></div>
<div class="c g f12 s7"><b>256.00</b><b>101</b><b>1.3</b><b>-</b><b>-</b><b>Md</b><b>-</b><b>MENDELEVIUM</b><b>[Rn] 5f¹³7s²</b></div>
<div class="c g f13 s7"><b>254.00</b><b>102</b><b>1.3</b><b>-</b><b>-</b><b>No</b><b>1.429</b><b>NOBELIUM</b><b>[Rn] 5f¹⁴7s²</b></div>
<div class="c g f14 s7"><b>257.00</b><b>103</b><b>1.7</b><b>-</b><b>-</b><b>Lr</b><b>-</b><b>LAWRENCIUM</b><b>[Rn] 5f¹⁴6d¹7s²</b></div>
</body></html>
